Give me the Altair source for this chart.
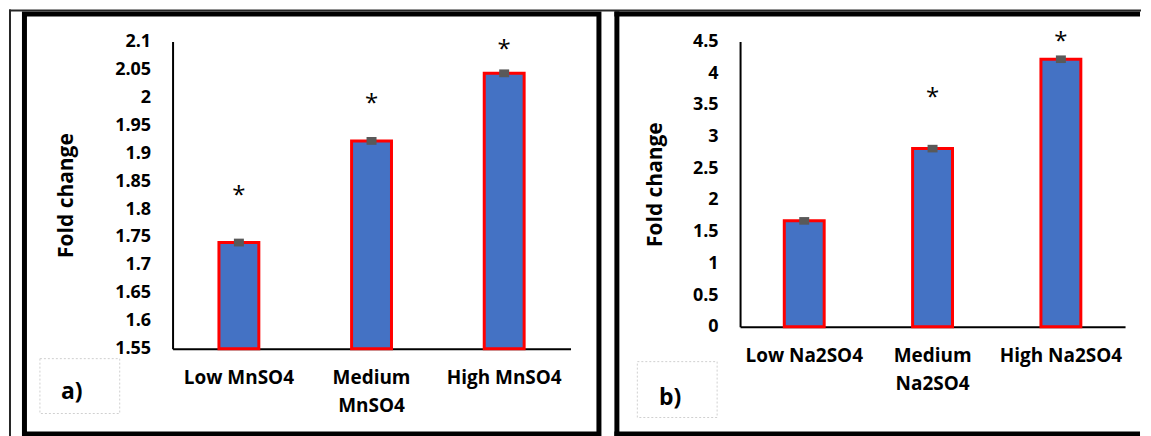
import altair as alt
import pandas as pd

FONT = "Open Sans"

# ---- Panel a data ----
cats_a = ["Low MnSO4", "Medium MnSO4", "High MnSO4"]
vals_a = [1.74, 1.922, 2.043]
errs_a = [0.007, 0.007, 0.007]
stars_a = [1.834, 1.998, 2.096]
ticks_a = [1.55, 1.6, 1.65, 1.7, 1.75, 1.8, 1.85, 1.9, 1.95, 2.0, 2.05, 2.1]

# ---- Panel b data ----
cats_b = ["Low Na2SO4", "Medium Na2SO4", "High Na2SO4"]
vals_b = [1.67, 2.81, 4.22]
errs_b = [0.06, 0.06, 0.06]
stars_b = [None, 3.70, 4.59]
ticks_b = [0, 0.5, 1, 1.5, 2, 2.5, 3, 3.5, 4, 4.5]


def panel(cats, vals, errs, stars, ticks, width, height, title_x, label, deco):
    df = pd.DataFrame({"cat": cats, "val": vals, "err": errs})
    df["lo"] = df["val"] - df["err"]
    df["hi"] = df["val"] + df["err"]
    sdf = pd.DataFrame({"cat": cats, "star": stars}).dropna()
    ymin, ymax = ticks[0], ticks[-1]

    xaxis = alt.Axis(
        labelAngle=0,
        labelFont=FONT,
        labelFontSize=19,
        labelFontWeight="bold",
        labelColor="black",
        labelPadding=20,
        labelLineHeight=28,
        labelBaseline="top",
        labelOverlap=False,
        labelExpr="indexof(datum.label, 'Medium') == 0 ? split(datum.label, ' ') : datum.label",
        ticks=False,
        tickSize=0,
        grid=False,
        domainColor="black",
        domainWidth=2,
    )
    xscale = alt.Scale(paddingInner=0, paddingOuter=0)
    yscale = alt.Scale(domain=[ymin, ymax], zero=False, nice=False)
    yaxis = alt.Axis(
        values=ticks,
        format="~g",
        grid=False,
        ticks=False,
        tickSize=0,
        labelFont=FONT,
        labelFontSize=18,
        labelFontWeight="bold",
        labelColor="black",
        labelPadding=22,
        labelOverlap=False,
        labelBound=False,
        labelFlush=False,
        domainColor="black",
        domainWidth=2,
        titleFont=FONT,
        titleFontSize=21,
        titleFontWeight="bold",
        titleColor="black",
        titleAngle=270,
        titleAlign="center",
        titleBaseline="middle",
        titleX=title_x,
        titleY=height / 2,
    )

    def X():
        return alt.X("cat:N", sort=cats, title=None, scale=xscale, axis=xaxis)

    def Y(field):
        return alt.Y(field, scale=yscale, axis=yaxis, title="Fold change")

    base = alt.Chart(df)
    bars = base.mark_bar(size=40, color="#4472C4", stroke="#FF0000", strokeWidth=3).encode(
        x=X(), y=Y("val:Q"), y2=alt.datum(ymin)
    )
    errbar = base.mark_rule(color="#595959", strokeWidth=10).encode(
        x=X(), y=Y("lo:Q"), y2="hi:Q"
    )
    starmark = alt.Chart(sdf).mark_text(
        text="*", font=FONT, fontSize=24, color="black", baseline="alphabetic", dy=13
    ).encode(x=X(), y=Y("star:Q"))

    one = alt.Chart(pd.DataFrame({"k": [0]}))
    layers = [bars, errbar, starmark]
    for (x1, x2, y1, y2, sw, col, dash) in deco.get("rects", []):
        props = dict(fillOpacity=0, stroke=col, strokeWidth=sw)
        if dash:
            props["strokeDash"] = dash
        layers.append(
            one.mark_rect(**props).encode(
                x=alt.value(x1), x2=alt.value(x2), y=alt.value(y1), y2=alt.value(y2)
            )
        )
    for (x1, x2, y1, y2, sw, col) in deco.get("lines", []):
        enc = dict(x=alt.value(x1), y=alt.value(y1))
        if x2 != x1:
            enc["x2"] = alt.value(x2)
        if y2 != y1:
            enc["y2"] = alt.value(y2)
        layers.append(
            one.mark_rule(color=col, strokeWidth=sw, strokeCap="butt").encode(**enc)
        )
    tx, ty = deco["label_pos"]
    layers.append(
        one.mark_text(
            text=label, font=FONT, fontSize=23, fontWeight="bold", color="black",
            align="center", baseline="middle",
        ).encode(x=alt.value(tx), y=alt.value(ty))
    )
    return alt.layer(*layers).properties(
        width=width,
        height=height,
        view=alt.ViewBackground(strokeWidth=0, strokeOpacity=0, stroke="transparent"),
    )


# decoration geometry (pixels relative to each panel's plot area)
deco_a = {
    "rects": [
        (-148.5, 427.5, -27.5, 393.5, 5, "black", None),
        (-133, -53, 318, 373, 1, "#D0D0D0", [2, 2]),
    ],
    "lines": [
        (-163, -163, -32, 396, 2, "#262626"),
        (-164, 971, -31, -31, 2, "#262626"),
    ],
    "label_pos": (-101, 351),
}
deco_b = {
    "rects": [
        (-103, -23, 321, 377, 1, "#D0D0D0", [2, 2]),
    ],
    "lines": [
        (-123.5, -123.5, -30, 396, 5, "black"),
        (-126, 401, -27.5, -27.5, 5, "black"),
        (-126, 401, 393.5, 393.5, 5, "black"),
    ],
    "label_pos": (-70, 357),
}

pa = panel(cats_a, vals_a, errs_a, stars_a, ticks_a, 399, 308, -106, "a)", deco_a)
pb = panel(cats_b, vals_b, errs_b, stars_b, ticks_b, 386, 286, -85, "b)", deco_b)

chart = (
    alt.hconcat(pa, pb, spacing=170, bounds="flush")
    .properties(padding=0)
    .configure_view(strokeWidth=0, stroke="transparent")
    .configure_axis(labelOverlap=False, grid=False)
    .configure(background="white")
)

chart.save("out.html", embed_options={"renderer": "svg", "actions": False})
